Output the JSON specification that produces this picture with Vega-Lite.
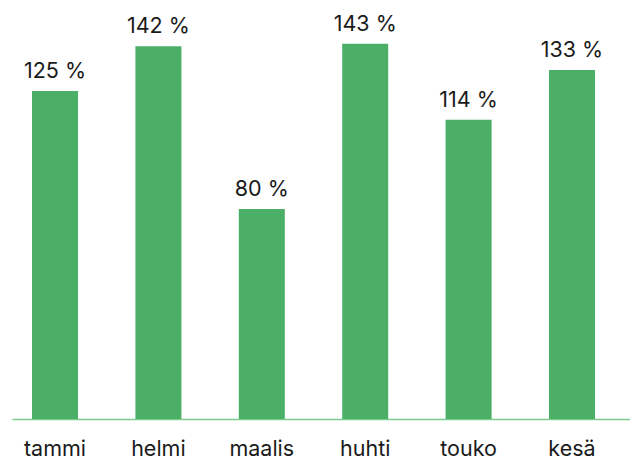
{
  "$schema": "https://vega.github.io/schema/vega-lite/v6.json",
  "width": 620,
  "height": 420,
  "autosize": {"type": "none"},
  "padding": {"left": 12, "top": -1, "right": 0, "bottom": 43},
  "background": "white",
  "config": {"view": {"stroke": null}, "font": "Inter"},
  "data": {"values": [
    {"month": "tammi", "value": 125},
    {"month": "helmi", "value": 142},
    {"month": "maalis", "value": 80},
    {"month": "huhti", "value": 143},
    {"month": "touko", "value": 114},
    {"month": "kesä", "value": 133}
  ]},
  "encoding": {
    "x": {
      "field": "month", "type": "nominal", "sort": null,
      "scale": {"paddingInner": 0.555, "paddingOuter": 0.2756, "align": 0.351},
      "axis": {"title": null, "labelAngle": 0, "labelFontSize": 21.5, "labelColor": "#1a1a1a", "labelPadding": 19, "ticks": false, "domainColor": "#7ccc8f", "domainWidth": 1.5, "labelFont": "Inter"}
    },
    "y": {
      "field": "value", "type": "quantitative",
      "scale": {"domain": [0, 160], "nice": false},
      "axis": null
    }
  },
  "layer": [
    {"mark": {"type": "bar", "color": "#4caf67"}},
    {
      "mark": {"type": "text", "baseline": "bottom", "dy": -8, "fontSize": 21.5, "color": "#1a1a1a", "font": "Inter"},
      "encoding": {"text": {"field": "label", "type": "nominal"}},
      "transform": [{"calculate": "datum.value + ' %'", "as": "label"}]
    }
  ]
}
